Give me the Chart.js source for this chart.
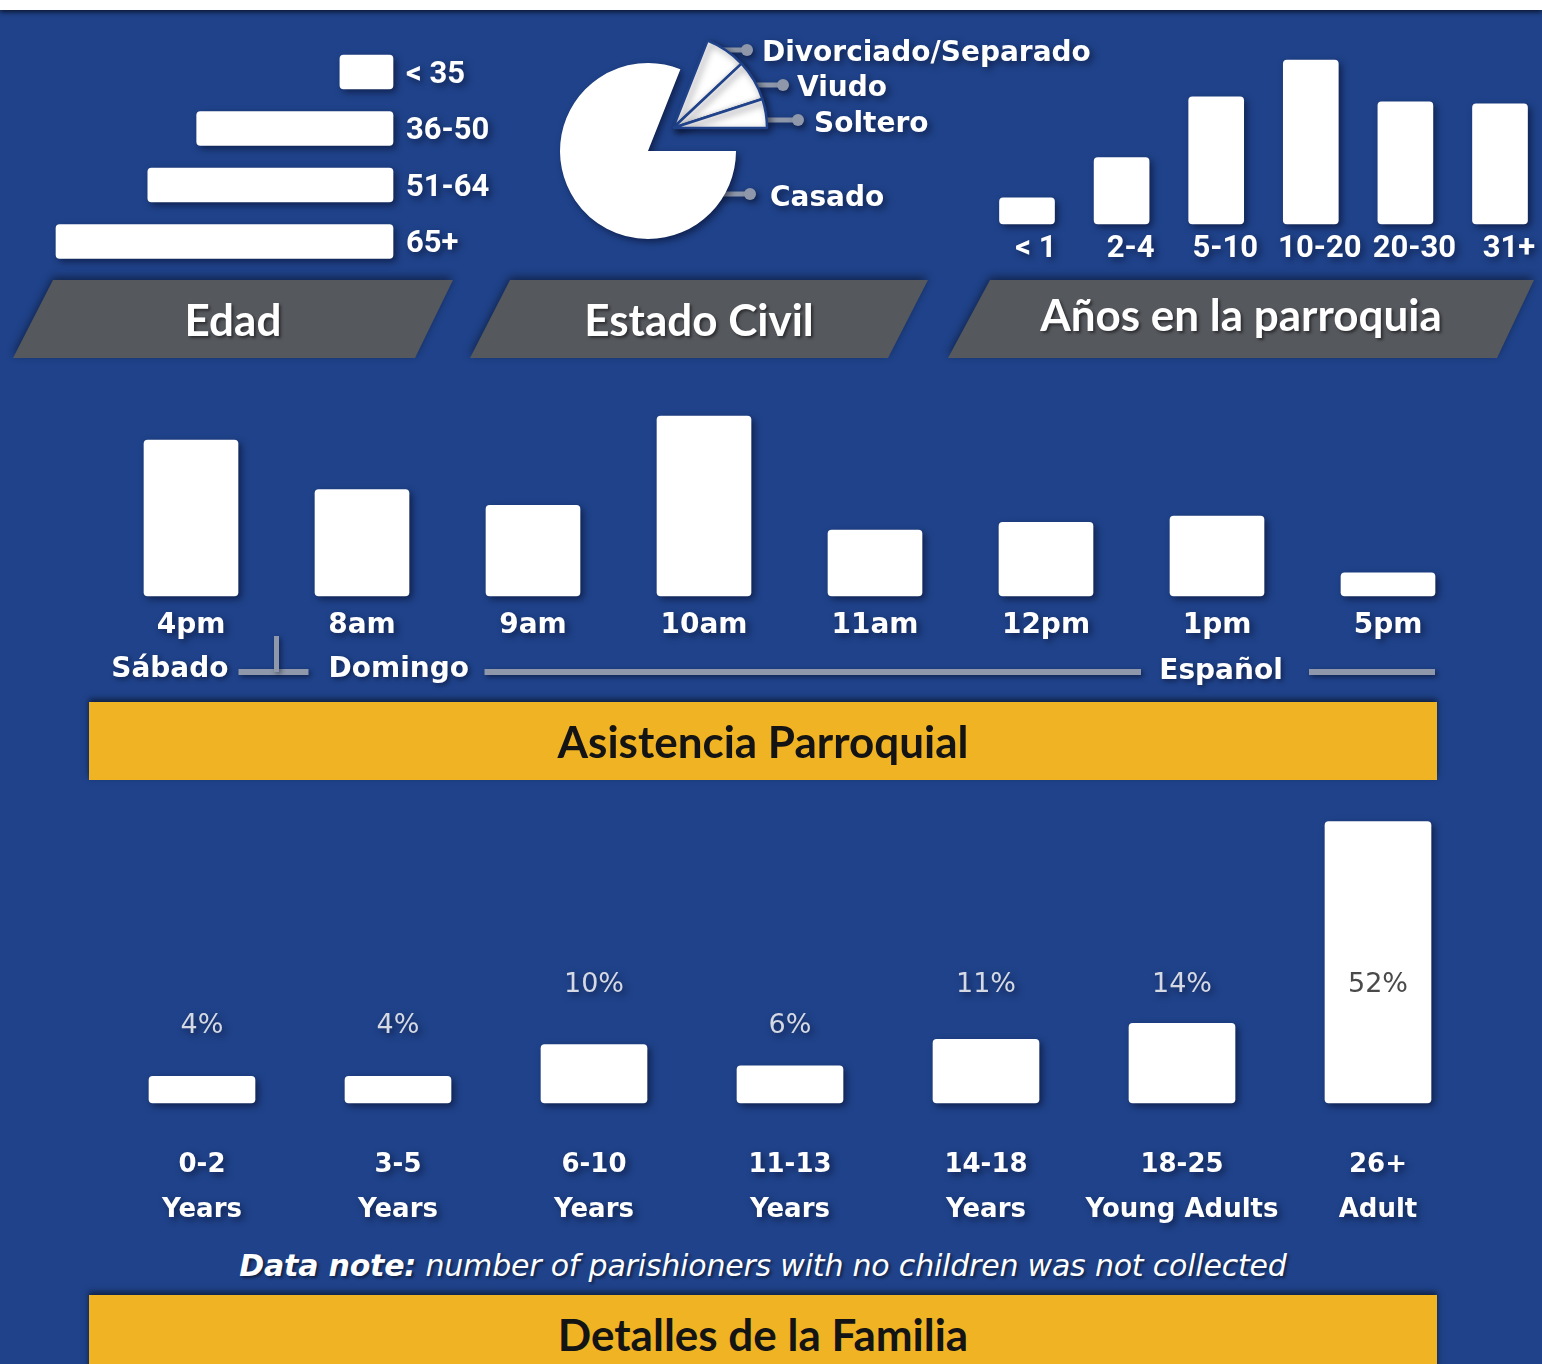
<!DOCTYPE html>
<html>
<head>
<meta charset="utf-8">
<script src="https://cdn.jsdelivr.net/npm/chart.js@4.4.1/dist/chart.umd.min.js"></script>
<style>
  body { margin:0; width:1542px; height:1364px; background:#1f428a; overflow:hidden; position:relative; font-family:"DejaVu Sans", sans-serif; }
  .top { position:absolute; left:0; top:0; width:1542px; height:10px; background:#fff; box-shadow:0 2px 5px rgba(0,0,0,.7); }
  canvas { position:absolute; }
  .tab { position:absolute; top:280px; height:78px; filter:drop-shadow(0 -3px 4px rgba(0,0,0,.45)); }
  .tab div { width:100%; height:100%; background:#55585d; display:flex; align-items:center; justify-content:center;
             color:#fff; font:bold 44px Lato, sans-serif; text-shadow:2px 2px 3px rgba(0,0,0,.5); }
  .banner { position:absolute; left:89px; width:1348px; background:#f0b323; display:flex; align-items:center; justify-content:center;
            color:#141414; font:bold 44px Lato, sans-serif; box-shadow:0 -3px 6px rgba(0,0,0,.55); }
  .note { position:absolute; left:89px; width:1348px; top:1248px; text-align:center; color:#fff; font:italic 30px "DejaVu Sans", sans-serif;
          letter-spacing:-0.2px; text-shadow:2px 2px 3px rgba(0,0,0,.5); }
</style>
</head>
<body>
<div class="top"></div>

<canvas id="edadChart" width="520" height="260" style="left:0;top:30px"></canvas>
<canvas id="civilBase" width="600" height="260" style="left:520px;top:10px"></canvas>
<canvas id="civilOut" width="600" height="260" style="left:520px;top:10px"></canvas>
<canvas id="aniosChart" width="580" height="240" style="left:970px;top:30px"></canvas>

<div class="tab" style="left:13px;width:440px"><div style="clip-path:polygon(40px 0,440px 0,402px 78px,0 78px)">Edad</div></div>
<div class="tab" style="left:470px;width:458px"><div style="clip-path:polygon(40px 0,458px 0,418px 78px,0 78px)">Estado Civil</div></div>
<div class="tab" style="left:948px;width:586px"><div style="clip-path:polygon(42px 0,586px 0,549px 78px,0 78px);padding-bottom:10px;box-sizing:border-box">Años en la parroquia</div></div>

<canvas id="misaChart" width="1542" height="320" style="left:0;top:380px"></canvas>
<div class="banner" style="top:702px;height:78px">Asistencia Parroquial</div>

<canvas id="familiaChart" width="1542" height="480" style="left:0;top:760px"></canvas>
<div class="note"><b>Data note:</b> number of parishioners with no children was not collected</div>
<div class="banner" style="top:1295px;height:80px;padding-bottom:2px;box-sizing:border-box">Detalles de la Familia</div>

<script>
const edadLabels = ["< 35", "36-50", "51-64", "65+"];
const edadValues = [6.3, 23.3, 29.1, 40];

const civilLabels = ["Casado", "Divorciado/Separado", "Viudo", "Soltero"];
const civilValues = [81, 7, 7, 5];

const aniosLabels = ["< 1", "2-4", "5-10", "10-20", "20-30", "31+"];
const aniosValues = [4.2, 10.6, 20.3, 26.2, 19.5, 19.2];

const misaLabels = ["4pm", "8am", "9am", "10am", "11am", "12pm", "1pm", "5pm"];
const misaValues = [20.1, 13.7, 11.7, 23.2, 8.5, 9.5, 10.3, 3.0];

const familiaLabels = [["0-2", "Years"], ["3-5", "Years"], ["6-10", "Years"], ["11-13", "Years"], ["14-18", "Years"], ["18-25", "Young Adults"], ["26+", "Adult"]];
const familiaValues = [4, 4, 10, 6, 11, 14, 52];

const BG = "#1f428a";
const LINE_GRAY = "#8e98aa";

Chart.defaults.animation = false;
Chart.defaults.responsive = false;
Chart.defaults.plugins.legend.display = false;
Chart.defaults.plugins.tooltip.enabled = false;
Chart.defaults.color = "#fff";

// drop shadow under everything the chart paints
const shadow = {
  id: "shadow",
  beforeDraw(chart) {
    const c = chart.ctx;
    c.save();
    c.shadowColor = "rgba(0,0,20,0.5)";
    c.shadowBlur = 7;
    c.shadowOffsetX = 3;
    c.shadowOffsetY = 3;
  },
  afterDraw(chart) { chart.ctx.restore(); }
};

const barSet = (data, extra) => Object.assign({
  data, backgroundColor: "#fff", borderRadius: 4, borderSkipped: false, clip: false
}, extra);

const noGrid = { display: false, drawTicks: false };
// keep label overhang from shrinking the plot area
const noEdge = s => { s.paddingTop = 0; s.paddingBottom = 0; s.paddingLeft = 0; s.paddingRight = 0; };

// Edad
new Chart(document.getElementById("edadChart"), {
  type: "bar",
  data: { labels: edadLabels, datasets: [barSet(edadValues, { barThickness: 34 })] },
  options: {
    indexAxis: "y",
    layout: { padding: { left: 56, top: 13.75, bottom: 20.25, right: 0 } },
    scales: {
      x: { display: false, reverse: true, min: 0, max: 40 },
      y: {
        position: "right", grid: noGrid, border: { display: false },
        ticks: { color: "#fff", padding: 13, labelOffset: 3, font: { family: "Roboto", weight: "bold", size: 31 } },
        afterFit: s => { s.width = 127; noEdge(s); }
      }
    }
  },
  plugins: [shadow]
});

// Estado Civil: labels with leader lines (page coords, canvas at 520,10)
const civilLeaders = [
  { i: 1, x0: 707, x1: 747, y: 50, tx: 762, ty: 54 },
  { i: 2, x0: 750, x1: 783, y: 85, tx: 797, ty: 89 },
  { i: 3, x0: 765, x1: 798, y: 120, tx: 814, ty: 125 },
  { i: 0, x0: 716, x1: 750, y: 194, tx: 770, ty: 199 }
];
const civilLabelPlugin = {
  id: "civilLabels",
  beforeDatasetsDraw(chart) {
    const c = chart.ctx;
    c.save();
    c.translate(-520, -10);
    c.strokeStyle = LINE_GRAY; c.fillStyle = LINE_GRAY; c.lineWidth = 5;
    civilLeaders.forEach(l => {
      c.beginPath(); c.moveTo(l.x0, l.y); c.lineTo(l.x1, l.y); c.stroke();
      c.beginPath(); c.arc(l.x1, l.y, 6, 0, Math.PI * 2); c.fill();
    });
    c.fillStyle = "#fff";
    c.font = "bold 28px 'DejaVu Sans'";
    c.textBaseline = "middle";
    civilLeaders.forEach(l => c.fillText(civilLabels[l.i], l.tx, l.ty));
    c.restore();
  }
};
new Chart(document.getElementById("civilBase"), {
  type: "pie",
  data: { labels: civilLabels, datasets: [{ data: civilValues, backgroundColor: ["#fff", "transparent", "transparent", "transparent"], borderWidth: 0 }] },
  options: { radius: 88, rotation: 90, layout: { padding: { left: 0, right: 344, top: 22, bottom: 0 } } },
  plugins: [shadow, civilLabelPlugin]
});
new Chart(document.getElementById("civilOut"), {
  type: "pie",
  data: { labels: civilLabels, datasets: [{ data: civilValues, backgroundColor: ["transparent", "#fff", "#fff", "#fff"], borderColor: BG, borderWidth: [0, 2.5, 2.5, 2.5] }] },
  options: { radius: 94, rotation: 90, layout: { padding: { left: 0, right: 294, top: 0, bottom: 24 } } },
  plugins: [shadow]
});

// Años en la parroquia
new Chart(document.getElementById("aniosChart"), {
  type: "bar",
  data: { labels: aniosLabels, datasets: [barSet(aniosValues, { barThickness: 55 })] },
  options: {
    layout: { padding: { left: 9.7, right: 2.7, top: 18.7, bottom: 0 } },
    scales: {
      y: { display: false, min: 0, max: 28 },
      x: {
        grid: noGrid, border: { display: false },
        ticks: { color: "#fff", padding: 7, labelOffset: 9, autoSkip: false, maxRotation: 0,
                 font: { family: "Roboto", weight: "bold", size: 31 } },
        afterFit: s => { s.height = 46; noEdge(s); }
      }
    }
  },
  plugins: [shadow]
});

// Asistencia: Sábado / Domingo / Español bracket under the axis
const misaGroups = {
  id: "misaGroups",
  afterDraw(chart) {
    const x = chart.scales.x, c = chart.ctx;
    const p = i => x.getPixelForValue(i);
    const top = 380, yLine = 672 - top;
    const tickX = (p(0) + p(1)) / 2;
    c.save();
    c.shadowColor = "rgba(0,0,20,0.5)"; c.shadowBlur = 5; c.shadowOffsetX = 2; c.shadowOffsetY = 2;
    c.strokeStyle = LINE_GRAY; c.lineWidth = 6;
    const seg = (a, b) => { c.beginPath(); c.moveTo(a, yLine); c.lineTo(b, yLine); c.stroke(); };
    seg(tickX - 38, tickX + 32);
    c.lineWidth = 5;
    c.beginPath(); c.moveTo(tickX, 636 - top); c.lineTo(tickX, yLine); c.stroke();
    c.lineWidth = 6;
    seg(tickX + 208, p(6) - 76);
    seg(p(6) + 92, p(7) + 47);
    c.fillStyle = "#fff";
    c.font = "bold 28px 'DejaVu Sans'";
    c.textBaseline = "middle";
    c.textAlign = "right"; c.fillText("Sábado", tickX - 48, 670 - top);
    c.textAlign = "left"; c.fillText("Domingo", tickX + 52, 670 - top);
    c.textAlign = "center"; c.fillText("Español", p(6) + 4, 672 - top);
    c.restore();
  }
};
new Chart(document.getElementById("misaChart"), {
  type: "bar",
  data: { labels: misaLabels, datasets: [barSet(misaValues, { barThickness: 94 })] },
  options: {
    layout: { padding: { left: 105.5, right: 68.5, top: 22, bottom: 0 } },
    scales: {
      y: { display: false, min: 0, max: 25 },
      x: {
        grid: noGrid, border: { display: false },
        ticks: { color: "#fff", padding: 12, autoSkip: false, maxRotation: 0,
                 font: { family: "DejaVu Sans", weight: "bold", size: 28, lineHeight: 1.3 } },
        afterFit: s => { s.height = 104; noEdge(s); }
      }
    }
  },
  plugins: [shadow, misaGroups]
});

// Detalles de la Familia: percentage labels sit on two rows
const pctRowLow = 13.5, pctRowHigh = 21.2;
const familiaPct = {
  id: "familiaPct",
  afterDatasetsDraw(chart) {
    const c = chart.ctx, y = chart.scales.y;
    c.save();
    c.font = "27px 'DejaVu Sans'";
    c.textAlign = "center"; c.textBaseline = "middle";
    chart.getDatasetMeta(0).data.forEach((bar, i) => {
      const v = familiaValues[i];
      const ly = y.getPixelForValue(v < 8 ? pctRowLow : pctRowHigh);
      const inside = ly > bar.y;
      if (inside) { c.shadowColor = "transparent"; c.fillStyle = "#4a4a4a"; }
      else { c.shadowColor = "rgba(0,0,20,0.5)"; c.fillStyle = "#d5d9e3"; }
      c.fillText(v + "%", bar.x, ly);
    });
    c.restore();
  }
};
new Chart(document.getElementById("familiaChart"), {
  type: "bar",
  data: { labels: familiaLabels, datasets: [barSet(familiaValues, { barThickness: 106, base: -1 })] },
  options: {
    layout: { padding: { left: 104, right: 66, top: 19, bottom: 0 } },
    scales: {
      y: { display: false, min: -1, max: 60 },
      x: {
        grid: noGrid, border: { display: false },
        ticks: { color: "#fff", padding: 39.5, autoSkip: false, maxRotation: 0,
                 font: { family: "DejaVu Sans", weight: "bold", size: 26, lineHeight: 1.73 } },
        afterFit: s => { s.height = 137; noEdge(s); }
      }
    }
  },
  plugins: [shadow, familiaPct]
});
</script>
</body>
</html>
